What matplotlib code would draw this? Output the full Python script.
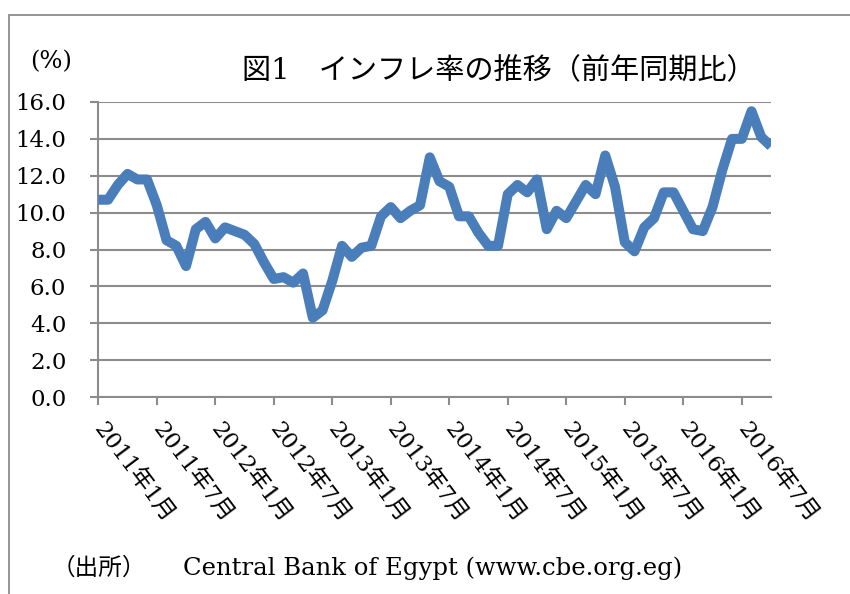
import matplotlib
matplotlib.use("Agg")
import matplotlib.pyplot as plt
from matplotlib.patches import Rectangle

# ---- data ----
years = [2011, 2012, 2013, 2014, 2015, 2016]
inflation = [
    10.7, 10.7, 11.5, 12.1, 11.8, 11.8, 10.4, 8.5, 8.2, 7.1, 9.1, 9.5,   # 2011
    8.6, 9.2, 9.0, 8.8, 8.3, 7.3, 6.4, 6.5, 6.2, 6.7, 4.3, 4.7,          # 2012
    6.3, 8.2, 7.6, 8.1, 8.2, 9.8, 10.3, 9.7, 10.1, 10.4, 13.0, 11.7,     # 2013
    11.4, 9.8, 9.8, 8.9, 8.2, 8.2, 11.0, 11.5, 11.1, 11.8, 9.1, 10.1,    # 2014
    9.7, 10.6, 11.5, 11.0, 13.1, 11.4, 8.4, 7.9, 9.2, 9.7, 11.1, 11.1,   # 2015
    10.1, 9.1, 9.0, 10.3, 12.3, 14.0, 14.0, 15.5, 14.1, 13.6,           # 2016
]
tick_labels = [f"{y}年{m}月" for y in years for m in (1, 7)]
y_ticks = [0, 2, 4, 6, 8, 10, 12, 14, 16]
title = "図1　インフレ率の推移（前年同期比）"
unit = "(%)"
source_head = "（出所）"
source_body = "Central Bank of Egypt (www.cbe.org.eg)"

FAM = ["DejaVu Serif", "Noto Sans CJK JP"]
plt.rcParams["font.family"] = FAM

W, H = 850, 594
fig = plt.figure(figsize=(W / 100, H / 100), dpi=100)

def px(x, y):
    return x / W, 1 - y / H

# outer frame
fig.patches.append(Rectangle(px(9, 700), (860 - 9) / W, (700 - 15) / H,
                             transform=fig.transFigure, fill=False,
                             edgecolor="#8c8c8c", linewidth=1.3))

left, right, top, bottom = 98.3, 771, 102, 397
ax = fig.add_axes([left / W, 1 - bottom / H, (right - left) / W, (bottom - top) / H])

GRID = "#8c8c8c"
x = list(range(len(inflation)))
ax.plot(x, inflation, color="#4A7EBB", linewidth=7.2,
        solid_joinstyle="round", solid_capstyle="butt", zorder=3)

ax.set_xlim(0, len(inflation) - 1)
ax.set_ylim(0, 16)
ax.set_yticks(y_ticks)
ax.set_yticklabels([f"{v:.1f}" for v in y_ticks], fontsize=16.5, family=FAM)
ax.yaxis.grid(True, color=GRID, linewidth=1.5)
ax.set_axisbelow(True)

xt = list(range(0, len(inflation), 6))
ax.set_xticks(xt)
ax.set_xticklabels(tick_labels[:len(xt)], fontsize=16.5, family=FAM,
                   rotation=-53, ha="left", va="center", rotation_mode="anchor")

for s in ("top", "right"):
    ax.spines[s].set_visible(False)
for s in ("left", "bottom"):
    ax.spines[s].set_color(GRID)
    ax.spines[s].set_linewidth(1.5)

ax.tick_params(axis="y", direction="out", length=6, width=1.5, color=GRID, pad=17)
ax.tick_params(axis="x", direction="out", length=6, width=1.5, color=GRID, pad=14)

fig.text(*px(499, 71), title, fontsize=21, family=FAM, ha="center", va="center")
fig.text(*px(51, 62), unit, fontsize=17.5, family=FAM, ha="center", va="center")
fig.text(*px(52, 568), source_head, fontsize=17, family=FAM, ha="left", va="center")
fig.text(*px(183, 568), source_body, fontsize=17.5, family=FAM, ha="left", va="center")

fig.savefig("out.png", dpi=100)
